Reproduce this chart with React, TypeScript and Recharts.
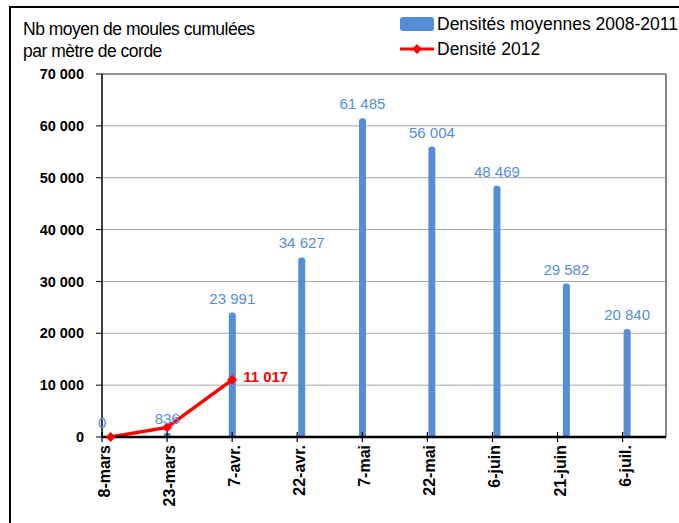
import {
  ComposedChart,
  Bar,
  Line,
  XAxis,
  YAxis,
  CartesianGrid,
  LabelList,
  ReferenceLine,
} from "recharts";

const FONT = '"Liberation Sans", Arial, sans-serif';
const BLUE = "#558ED5";
const RED = "#FF0000";

// jours depuis le 8 mars
const tickDays = [0, 15, 30, 45, 60, 75, 90, 105, 120];
const tickLabels = [
  "8-mars",
  "23-mars",
  "7-avr.",
  "22-avr.",
  "7-mai",
  "22-mai",
  "6-juin",
  "21-juin",
  "6-juil.",
];

const barDays = [0, 15, 30, 46, 60, 76, 91, 107, 121];
const barValues = [0, 836, 23991, 34627, 61485, 56004, 48469, 29582, 20840];

const lineDays = [2, 15, 30];
const lineValues = [0, 1850, 11017];

const yTicks = [0, 10000, 20000, 30000, 40000, 50000, 60000, 70000];

const fmt = (n: number) =>
  String(Math.round(n)).replace(/\B(?=(\d{3})+(?!\d))/g, " ");

const allDays = Array.from(new Set([...barDays, ...lineDays])).sort(
  (a, b) => a - b,
);
const data = allDays.map((day) => {
  const bi = barDays.indexOf(day);
  const li = lineDays.indexOf(day);
  return {
    day,
    moyenne: bi >= 0 ? barValues[bi] : undefined,
    d2012: li >= 0 ? lineValues[li] : undefined,
  };
});

function XTick({ x, y, payload }: any) {
  const i = tickDays.indexOf(payload.value);
  return (
    <g>
      <line x1={x} x2={x} y1={y - 5} y2={y + 5} stroke="#000" strokeWidth={1.2} />
      <text
        transform={`translate(${x + 8}, ${y + 8}) rotate(-90)`}
        textAnchor="end"
        fontFamily={FONT}
        fontSize={16}
        fontWeight="bold"
        fill="#000"
      >
        {tickLabels[i]}
      </text>
    </g>
  );
}

function Diamond({ cx, cy }: any) {
  if (cx == null || cy == null) return null;
  const r = 5;
  return (
    <polygon
      points={`${cx},${cy - r} ${cx + r},${cy} ${cx},${cy + r} ${cx - r},${cy}`}
      fill={RED}
    />
  );
}

function BarLabel({ x, y, width, value }: any) {
  if (value == null) return null;
  return (
    <text
      x={x + width / 2}
      y={y - 9}
      textAnchor="middle"
      fontFamily={FONT}
      fontSize={15}
      fill={BLUE}
    >
      {fmt(value)}
    </text>
  );
}

function LineLabel({ x, y, value }: any) {
  if (value == null || value !== lineValues[lineValues.length - 1]) return null;
  return (
    <text
      x={x + 11}
      y={y + 2}
      fontFamily={FONT}
      fontSize={15}
      fontWeight="bold"
      fill={RED}
    >
      {fmt(value)}
    </text>
  );
}

export default function App() {
  return (
    <div
      style={{
        position: "absolute",
        left: 0,
        top: 0,
        width: 679,
        height: 523,
        overflow: "hidden",
        background: "#fff",
        fontFamily: FONT,
      }}
    >
      <div
        style={{
          position: "absolute",
          left: 9,
          top: 6,
          width: 720,
          height: 600,
          border: "2px solid #000",
        }}
      />
      <div
        style={{
          position: "absolute",
          left: 23,
          top: 18,
          fontSize: 17.5,
          lineHeight: "22px",
          letterSpacing: -0.5,
          color: "#000",
        }}
      >
        Nb moyen de moules cumulées
        <br />
        par mètre de corde
      </div>
      <div style={{ position: "absolute", left: 400, top: 13, fontSize: 17.5, color: "#000" }}>
        <div style={{ display: "flex", alignItems: "center", height: 22 }}>
          <span
            style={{
              display: "inline-block",
              width: 34,
              height: 14,
              background: BLUE,
              borderRadius: 3,
              marginRight: 3,
            }}
          />
          Densités moyennes 2008-2011
        </div>
        <div style={{ display: "flex", alignItems: "center", height: 22, marginTop: 3 }}>
          <svg width={34} height={12} style={{ marginRight: 3 }}>
            <line x1={0} x2={34} y1={6} y2={6} stroke={RED} strokeWidth={3} />
            <polygon points="17,1 22,6 17,11 12,6" fill={RED} />
          </svg>
          Densité 2012
        </div>
      </div>
      <div style={{ position: "absolute", left: 0, top: 0 }}>
        <ComposedChart
          width={679}
          height={523}
          data={data}
          margin={{ top: 74, right: 13, left: 42, bottom: 0 }}
        >
          <CartesianGrid horizontal vertical={false} stroke="#a6a6a6" strokeWidth={1} />
          <ReferenceLine y={70000} stroke="#808080" strokeWidth={1.5} />
          <ReferenceLine x={130} stroke="#606060" strokeWidth={1.5} />
          <XAxis
            dataKey="day"
            type="number"
            domain={[0, 130]}
            ticks={tickDays}
            interval={0}
            height={86}
            tickSize={0}
            tickMargin={0}
            tickLine={false}
            axisLine={{ stroke: "#000", strokeWidth: 2.5 }}
            tick={<XTick />}
            allowDataOverflow
          />
          <YAxis
            type="number"
            domain={[0, 70000]}
            ticks={yTicks}
            interval={0}
            width={60}
            tickSize={6}
            tickMargin={12}
            tickFormatter={fmt}
            axisLine={{ stroke: "#000", strokeWidth: 1.5 }}
            tickLine={{ stroke: "#000" }}
            tick={{ fontFamily: FONT, fontSize: 14.5, fontWeight: "bold", fill: "#000" }}
          />
          <Bar
            dataKey="moyenne"
            name="Densités moyennes 2008-2011"
            fill={BLUE}
            barSize={7}
            radius={[3, 3, 0, 0]}
            minPointSize={0.01}
            isAnimationActive={false}
          >
            <LabelList dataKey="moyenne" content={<BarLabel />} />
          </Bar>
          <Line
            dataKey="d2012"
            name="Densité 2012"
            stroke={RED}
            strokeWidth={3.5}
            connectNulls
            dot={<Diamond />}
            activeDot={false}
            isAnimationActive={false}
          >
            <LabelList dataKey="d2012" content={<LineLabel />} />
          </Line>
        </ComposedChart>
      </div>
    </div>
  );
}
